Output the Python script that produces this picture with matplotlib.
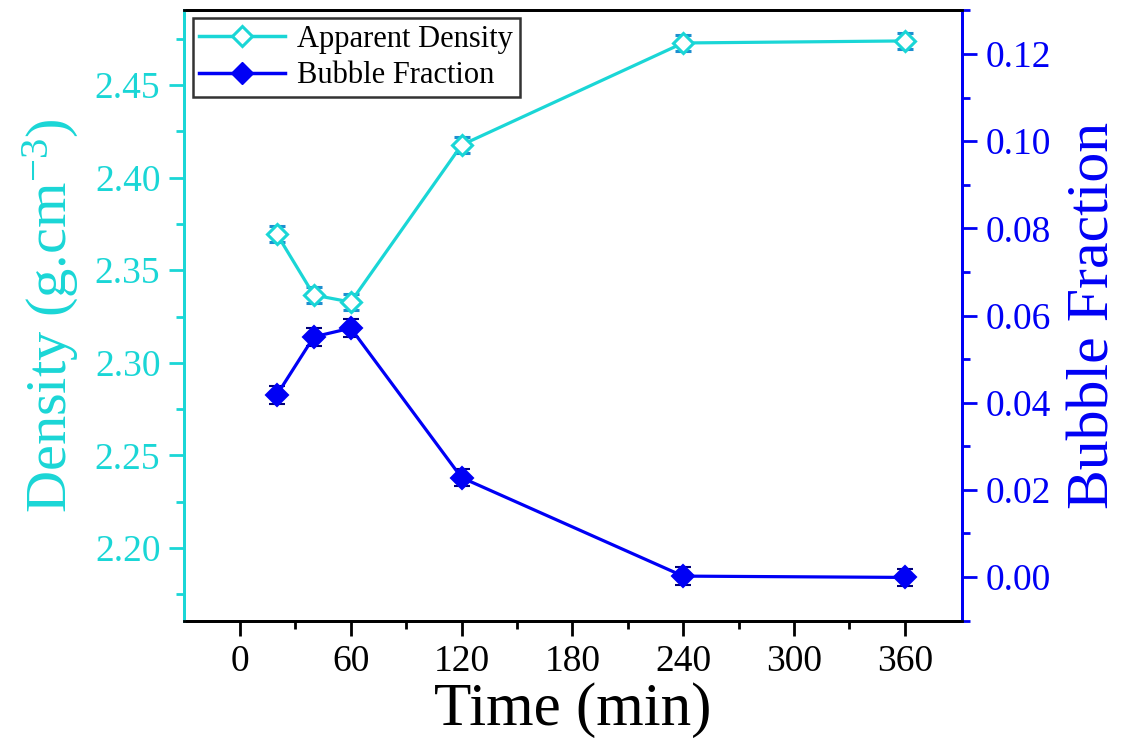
import matplotlib
matplotlib.use("Agg")
import matplotlib.pyplot as plt
from matplotlib.ticker import MultipleLocator, FixedLocator, FormatStrFormatter
from matplotlib.lines import Line2D

plt.rcParams['font.family'] = ['Liberation Serif', 'DejaVu Serif']
plt.rcParams['mathtext.fontset'] = 'custom'
plt.rcParams['mathtext.rm'] = 'Liberation Serif'
plt.rcParams['mathtext.it'] = 'Liberation Serif:italic'

time_min = [20, 40, 60, 120, 240, 360]
density = [2.3695, 2.3366, 2.3328, 2.4176, 2.4727, 2.4738]
density_err = [0.0045, 0.0045, 0.0045, 0.0045, 0.0045, 0.0045]
bubble = [0.0418, 0.0551, 0.0571, 0.0228, 0.0002, -0.0001]
bubble_err = [0.002, 0.002, 0.002, 0.002, 0.002, 0.002]
x_ticks = [0, 60, 120, 180, 240, 300, 360]
x_minor = [30, 90, 150, 210, 270, 330]

CYAN = '#1AD6D6'
BLUE = '#0000F5'

fig = plt.figure(figsize=(11.26, 7.54), dpi=100)
ax = fig.add_axes([184/1126, 1-621/754, (962-184)/1126, (621-10)/754])
ax2 = ax.twinx()

ax.errorbar(time_min, density, yerr=density_err, color=CYAN, lw=2.3,
            marker='D', ms=10, mfc='white', mec=CYAN, mew=2.2,
            ecolor='#1E8FD0', elinewidth=1.5, capsize=6, capthick=1.5, zorder=3)
ax2.errorbar(time_min, bubble, yerr=bubble_err, color=BLUE, lw=2.3,
             marker='D', ms=11, mfc=BLUE, mec=BLUE, mew=1.5,
             ecolor='#00007A', elinewidth=1.5, capsize=6, capthick=1.5, zorder=3)

ax.set_xlim(-30.3, 391)
ax.set_ylim(2.1606, 2.4905)
ax2.set_ylim(-0.0101, 0.1301)

ax.set_xticks(x_ticks)
ax.xaxis.set_minor_locator(FixedLocator(x_minor))
ax.yaxis.set_major_locator(MultipleLocator(0.05))
ax.yaxis.set_minor_locator(MultipleLocator(0.025))
ax2.yaxis.set_major_locator(MultipleLocator(0.02))
ax2.yaxis.set_minor_locator(MultipleLocator(0.01))
ax.yaxis.set_major_formatter(FormatStrFormatter('%.2f'))
ax2.yaxis.set_major_formatter(FormatStrFormatter('%.2f'))

for a in (ax, ax2):
    for s in a.spines.values():
        s.set_linewidth(2.0)
    a.spines['top'].set_color('black')
    a.spines['bottom'].set_color('black')
ax.spines['left'].set_color(CYAN)
ax2.spines['left'].set_color(CYAN)
ax.spines['right'].set_color(BLUE)
ax2.spines['right'].set_color(BLUE)

ax.tick_params(axis='x', which='major', direction='out', length=11, width=2,
               labelsize=27, colors='black', pad=6, top=False)
ax.tick_params(axis='x', which='minor', direction='out', length=6, width=2, top=False)
ax.tick_params(axis='y', which='major', direction='out', length=11, width=2,
               labelsize=27, colors=CYAN, pad=6)
ax.tick_params(axis='y', which='minor', direction='out', length=6, width=2, colors=CYAN)
ax2.tick_params(axis='y', which='major', direction='out', length=11, width=2,
                labelsize=27, colors=BLUE, pad=6)
ax2.tick_params(axis='y', which='minor', direction='out', length=6, width=2, colors=BLUE)

ax.set_xlabel('Time (min)', fontsize=44, labelpad=2)
ax.set_ylabel('Density (g.cm$^{-3}$)', fontsize=42, color=CYAN, labelpad=10)
ax2.set_ylabel('Bubble Fraction', fontsize=43, color=BLUE, labelpad=12)

h1 = Line2D([], [], color=CYAN, lw=2.5, marker='D', ms=10, mfc='white', mec=CYAN, mew=2.2)
h2 = Line2D([], [], color=BLUE, lw=2.5, marker='D', ms=11, mfc=BLUE, mec=BLUE)
leg = ax.legend([h1, h2], ['Apparent Density', 'Bubble Fraction'],
                loc='upper left', bbox_to_anchor=(0.011, 0.987), fontsize=22,
                frameon=True, fancybox=False, edgecolor='black',
                borderaxespad=0, handlelength=2.8, handletextpad=0.4,
                labelspacing=0.25, borderpad=0.22)
leg.get_frame().set_linewidth(1.8)
leg.set_zorder(10)

fig.savefig('out.png', dpi=100)
